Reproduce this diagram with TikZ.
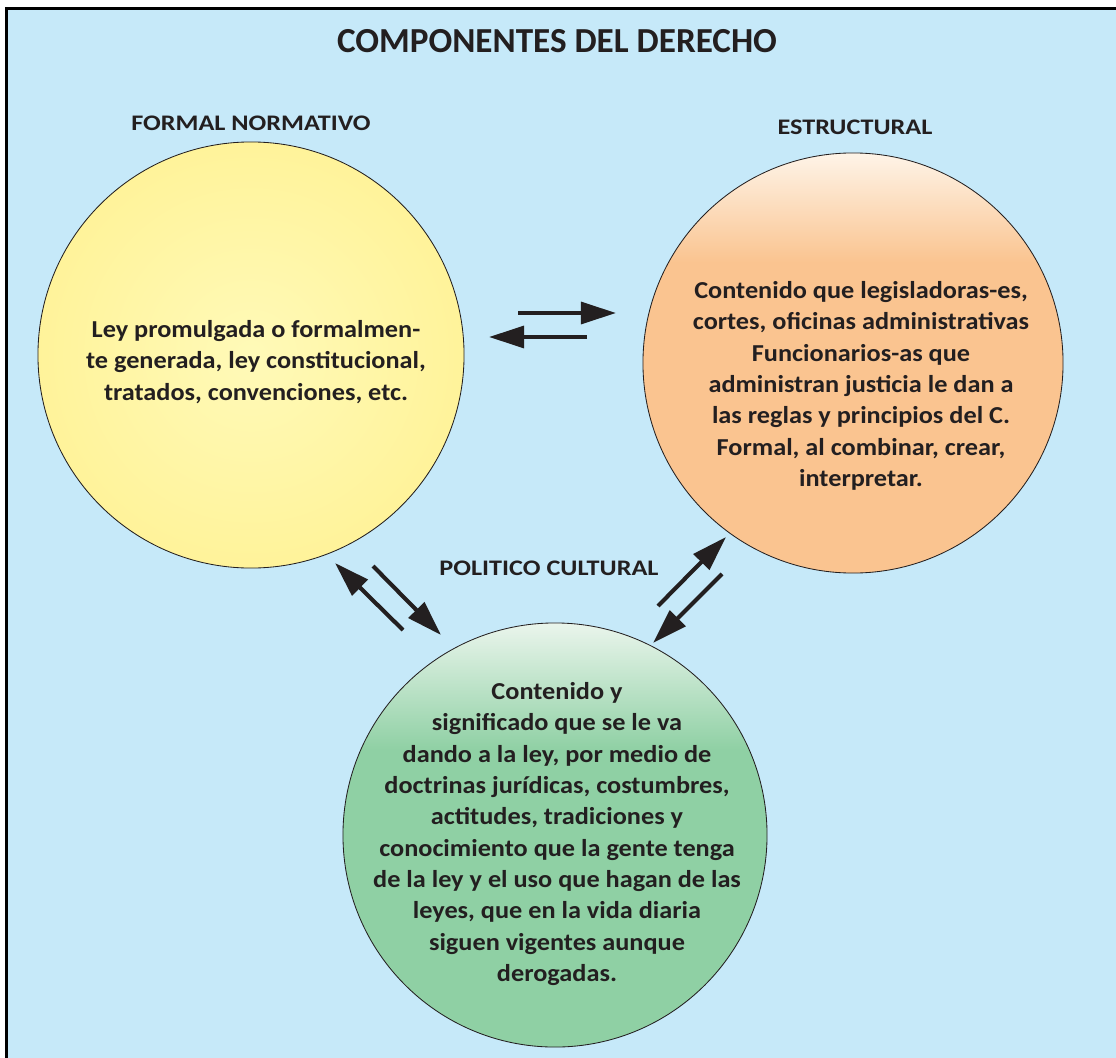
\documentclass[tikz,border=0pt]{standalone}
\usepackage{fontspec}
\setmainfont{Carlito}
\newfontfamily\cuerpo[FakeStretch=1.08]{Carlito}
\newfontfamily\encabezado[FakeStretch=1.18]{Carlito}
\usetikzlibrary{arrows.meta}
\definecolor{fondo}{HTML}{C6E9F9}
\definecolor{amarillo}{HTML}{FFF39A}
\definecolor{amarilloclaro}{HTML}{FFFAB8}
\definecolor{naranja}{HTML}{FAC490}
\definecolor{naranjaclaro}{HTML}{FEF4E8}
\definecolor{verde}{HTML}{8FD0A4}
\definecolor{verdeclaro}{HTML}{EAF5EC}
\definecolor{tinta}{HTML}{231F20}
\pgfdeclareverticalshading{sombranaranja}{100bp}{color(0bp)=(naranja); color(62bp)=(naranja); color(75bp)=(naranjaclaro); color(100bp)=(naranjaclaro)}
\pgfdeclareverticalshading{sombraverde}{100bp}{color(0bp)=(verde); color(60bp)=(verde); color(75bp)=(verdeclaro); color(100bp)=(verdeclaro)}

\begin{document}
\begin{tikzpicture}[x=0.025cm,y=-0.025cm]
\tikzstyle{every node}=[text=tinta, font=\cuerpo\bfseries\fontsize{17.3}{22.3}\selectfont]
\tikzstyle{circulo}=[circle, draw=tinta, line width=0.6pt, inner sep=0pt]
\tikzstyle{titulo}=[anchor=base, font=\encabezado\bfseries\fontsize{15.8}{19}\selectfont]
\tikzstyle{flecha}=[draw=tinta, line width=2.9pt, -{Triangle[length=25pt, width=15.5pt]}]

\useasboundingbox (0,0) rectangle (1116,1057);
\clip (0,0) rectangle (1116,1057);
\fill[white] (0,0) rectangle (1116,1057);
\filldraw[fill=fondo, draw=black, line width=2.2pt] (6.5,8.5) rectangle (1150,1090);

\node[anchor=base, font=\bfseries\fontsize{25}{30}\selectfont] (titulo) at (557,53) {COMPONENTES DEL DERECHO};

% los tres componentes
\node[circulo, minimum size=10.65cm, inner color=amarilloclaro, outer color=amarillo] (formal) at (251,355) {};
\node[circulo, minimum size=10.5cm, shading=sombranaranja] (estructural) at (853,363) {};
\node[circulo, minimum size=10.6cm, shading=sombraverde] (politico) at (555,835) {};

\node[titulo] (tformal) at (251,131) {FORMAL NORMATIVO};
\node[titulo] (testructural) at (855,135) {ESTRUCTURAL};
\node[titulo] (tpolitico) at (549,575) {POLITICO CULTURAL};

\node[align=center] (xformal) at (256,362) {Ley promulgada o formalmen-\\te generada, ley constitucional,\\tratados, convenciones, etc.};
\node[align=center] (xestructural) at (861,386) {Contenido que legisladoras-es,\\cortes, oficinas administrativas\\Funcionarios-as que\\administran justicia le dan a\\las reglas y principios del C.\\Formal, al combinar, crear,\\interpretar.};
\node[align=center] (xpolitico) at (557,834) {Contenido y\\significado que se le va\\dando a la ley, por medio de\\doctrinas jurídicas, costumbres,\\actitudes, tradiciones y\\conocimiento que la gente tenga\\de la ley y el uso que hagan de las\\leyes, que en la vida diaria\\siguen vigentes aunque\\derogadas.};

% flechas entre componentes
\coordinate (fe1) at (518,313);
\coordinate (fe2) at (616,313);
\coordinate (ef1) at (587,337);
\coordinate (ef2) at (489,337);
\coordinate (pf1) at (403,630);
\coordinate (pf2) at (335,563);
\coordinate (fp1) at (373,566);
\coordinate (fp2) at (441,635);
\coordinate (pe1) at (658,606);
\coordinate (pe2) at (726,537);
\coordinate (ep1) at (722,574);
\coordinate (ep2) at (653,643);

\draw[flecha] (fe1) -- (fe2);
\draw[flecha] (ef1) -- (ef2);
\draw[flecha] (pf1) -- (pf2);
\draw[flecha] (fp1) -- (fp2);
\draw[flecha] (pe1) -- (pe2);
\draw[flecha] (ep1) -- (ep2);

\end{tikzpicture}
\end{document}
